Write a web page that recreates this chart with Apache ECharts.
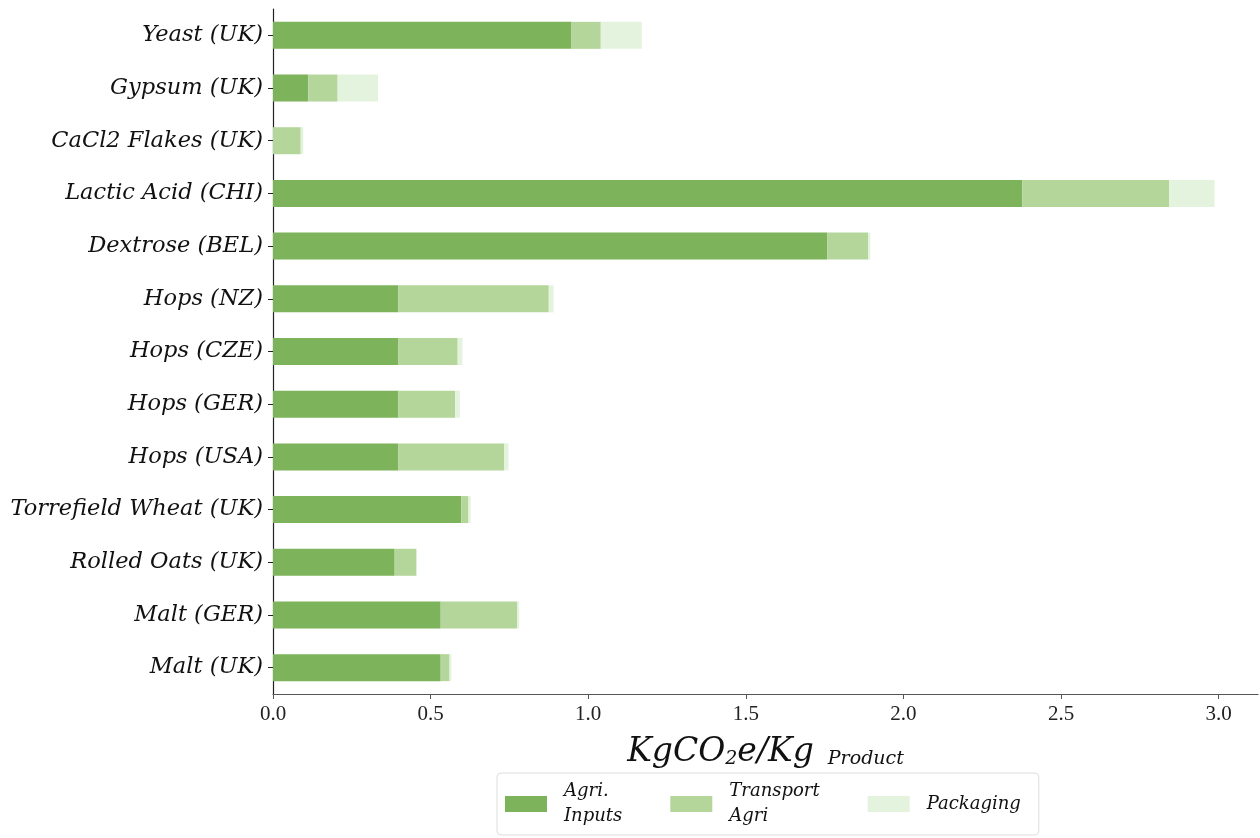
<!DOCTYPE html>
<html>
<head>
<meta charset="utf-8">
<script src="https://cdn.jsdelivr.net/npm/echarts@6/dist/echarts.min.js"></script>
<style>
html,body{margin:0;padding:0;background:#fff;}
#chart{width:1260px;height:838px;}
</style>
</head>
<body>
<div id="chart"></div>
<script>
// Categories, top to bottom as shown
const categories = ["Yeast (UK)", "Gypsum (UK)", "CaCl2 Flakes (UK)", "Lactic Acid (CHI)", "Dextrose (BEL)",
  "Hops (NZ)", "Hops (CZE)", "Hops (GER)", "Hops (USA)", "Torrefield Wheat (UK)", "Rolled Oats (UK)",
  "Malt (GER)", "Malt (UK)"];
const agriInputs   = [0.947, 0.112, 0.000, 2.377, 1.759, 0.398, 0.398, 0.398, 0.398, 0.597, 0.386, 0.532, 0.532];
const transportAgri= [0.093, 0.093, 0.088, 0.466, 0.129, 0.477, 0.188, 0.180, 0.335, 0.023, 0.069, 0.243, 0.028];
const packaging    = [0.130, 0.128, 0.008, 0.144, 0.007, 0.015, 0.015, 0.015, 0.014, 0.007, 0.000, 0.006, 0.006];
const seriesNames  = ["Agri.\nInputs", "Transport\nAgri", "Packaging"];
const xTicks = [0, 0.5, 1.0, 1.5, 2.0, 2.5, 3.0];

const colors = ["#7db35a", "#b5d69a", "#e4f3dd"];
const serif = "'Liberation Serif', 'DejaVu Serif', serif";
const wserif = "'DejaVu Serif', 'Liberation Serif', serif";

const chart = echarts.init(document.getElementById('chart'), null, {renderer: 'canvas'});
const mk = (name, data, i) => ({
  name: name, type: 'bar', stack: 'total', data: data, barWidth: 27,
  itemStyle: {color: colors[i]}, emphasis: {disabled: true}
});
chart.setOption({
  animation: false,
  color: colors,
  grid: {left: 273, right: 2, top: 9, bottom: 144, containLabel: false},
  xAxis: {
    type: 'value', min: 0, max: 3.125, interval: 0.5,
    axisLine: {show: true, lineStyle: {color: '#555', width: 1.2}},
    axisTick: {show: true, length: 5, lineStyle: {color: '#555'}, customValues: xTicks},
    axisLabel: {customValues: xTicks, color: '#222', fontFamily: serif, fontSize: 21, margin: 10,
      formatter: v => v.toFixed(1)},
    splitLine: {show: false},
    name: '{m|KgCO}{s|2}{m|e/Kg}{p| Product}',
    nameLocation: 'middle', nameGap: 42,
    nameTextStyle: {
      rich: {
        m: {fontFamily: wserif, fontStyle: 'italic', fontSize: 33, color: '#111'},
        s: {fontFamily: wserif, fontStyle: 'italic', fontSize: 19, color: '#111', verticalAlign: 'bottom', padding: [10,0,0,0]},
        p: {fontFamily: wserif, fontStyle: 'italic', fontSize: 19, color: '#111', verticalAlign: 'bottom', padding: [14,0,0,8]}
      }
    }
  },
  yAxis: {
    type: 'category', data: categories, inverse: true,
    axisLine: {show: true, lineStyle: {color: '#222', width: 1.2}},
    axisTick: {show: true, alignWithLabel: true, length: 5, lineStyle: {color: '#222'}},
    axisLabel: {color: '#111', fontFamily: wserif, fontStyle: 'italic', fontSize: 22.5, margin: 10}
  },
  legend: {
    orient: 'horizontal', left: 497, top: 773,
    icon: 'rect',
    itemWidth: 42, itemHeight: 16, itemGap: 30,
    padding: [6, 0, 6, 8],
    borderColor: '#ddd', borderWidth: 1, borderRadius: 4,
    backgroundColor: '#fff',
    textStyle: {fontFamily: wserif, fontStyle: 'italic', fontSize: 18, color: '#111', lineHeight: 25, padding: [0, 18, 0, 12]},
    data: seriesNames
  },
  series: [mk(seriesNames[0], agriInputs, 0), mk(seriesNames[1], transportAgri, 1), mk(seriesNames[2], packaging, 2)]
});
</script>
</body>
</html>
